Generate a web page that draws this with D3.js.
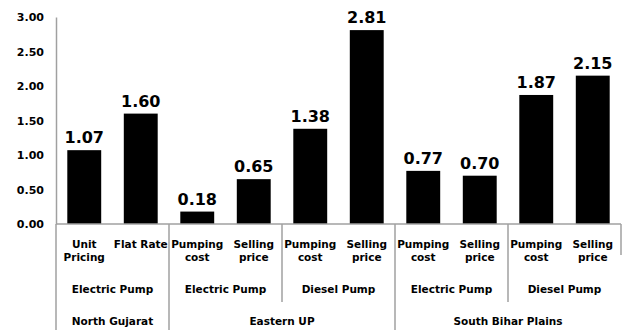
<!DOCTYPE html>
<html>
<head>
<meta charset="utf-8">
<script src="https://cdn.jsdelivr.net/npm/d3@7"></script>
<style>
  body { margin: 0; background: #fff; }
  text { font-family: "DejaVu Sans", Verdana, sans-serif; font-weight: bold; fill: #000; }
</style>
</head>
<body>
<script>
const w = 625;
const h = 330;

// Data

const subLabels = [
  ["Unit", "Pricing"], ["Flat Rate"],
  ["Pumping", "cost"], ["Selling", "price"],
  ["Pumping", "cost"], ["Selling", "price"],
  ["Pumping", "cost"], ["Selling", "price"],
  ["Pumping", "cost"], ["Selling", "price"]
];
const values = [1.07, 1.60, 0.18, 0.65, 1.38, 2.81, 0.77, 0.70, 1.87, 2.15];
const pumps = [
  "Electric Pump", "Electric Pump",
  "Electric Pump", "Electric Pump",
  "Diesel Pump", "Diesel Pump",
  "Electric Pump", "Electric Pump",
  "Diesel Pump", "Diesel Pump"
];
const regions = [
  "North Gujarat", "North Gujarat",
  "Eastern UP", "Eastern UP", "Eastern UP", "Eastern UP",
  "South Bihar Plains", "South Bihar Plains", "South Bihar Plains", "South Bihar Plains"
];
const yTicks = [0, 0.5, 1, 1.5, 2, 2.5, 3];

// Scales

const x = d3.scaleBand()
  .domain(d3.range(values.length))
  .range([56, 621])
  .paddingInner(0.4)
  .paddingOuter(0.2);

const y = d3.scaleLinear().domain([0, 3]).range([224, 17]);

const svg = d3.select("body").append("svg").attr("width", w).attr("height", h);

// Bars

svg.append("g")
  .selectAll("rect")
  .data(values)
  .join("rect")
  .attr("x", (d, i) => x(i))
  .attr("y", (d) => y(d))
  .attr("width", x.bandwidth())
  .attr("height", (d) => y(0) - y(d))
  .attr("fill", "#000");

// Value labels

svg.append("g")
  .selectAll("text")
  .data(values)
  .join("text")
  .attr("x", (d, i) => x(i) + x.bandwidth() / 2)
  .attr("y", (d) => y(d) - 7)
  .attr("text-anchor", "middle")
  .attr("font-size", 16)
  .text((d) => d.toFixed(2));

// Y axis

const yAxis = svg.append("g")
  .attr("transform", "translate(56,0)")
  .call(d3.axisLeft(y).tickValues(yTicks).tickFormat(d3.format(".2f")).tickSize(0).tickPadding(12));
yAxis.select(".domain").attr("stroke", "#a0a0a0").attr("stroke-width", 1.5);
yAxis.selectAll("text").attr("font-size", 11);

// X axis line

const lineColor = "#a0a0a0";
svg.append("line")
  .attr("x1", 56).attr("x2", 621)
  .attr("y1", y(0)).attr("y2", y(0))
  .attr("stroke", lineColor).attr("stroke-width", 1.5);

// Sub-category labels

svg.append("g")
  .selectAll("text")
  .data(subLabels)
  .join("text")
  .attr("x", (d, i) => x(i) + x.bandwidth() / 2)
  .attr("y", 248)
  .attr("text-anchor", "middle")
  .attr("font-size", 10.5)
  .selectAll("tspan")
  .data((d) => d)
  .join("tspan")
  .attr("x", function () { return this.parentNode.getAttribute("x"); })
  .attr("dy", (d, i) => (i === 0 ? 0 : 13))
  .text((d) => d);

// Group runs

function runs(keys) {
  const out = [];
  keys.forEach((k, i) => {
    const last = out[out.length - 1];
    if (last && last.key === k) last.end = i;
    else out.push({ key: k, start: i, end: i });
  });
  return out;
}

const step = x.step();
const left = (i) => x(i) - (step - x.bandwidth()) / 2;
const right = (i) => x(i) + x.bandwidth() + (step - x.bandwidth()) / 2;

const pumpRuns = runs(pumps.map((p, i) => regions[i] + "|" + p));
const regionRuns = runs(regions);

// Pump labels

svg.append("g")
  .selectAll("text")
  .data(pumpRuns)
  .join("text")
  .attr("x", (d) => (left(d.start) + right(d.end)) / 2)
  .attr("y", 293)
  .attr("text-anchor", "middle")
  .attr("font-size", 10.5)
  .text((d) => d.key.split("|")[1]);

// Region labels

svg.append("g")
  .selectAll("text")
  .data(regionRuns)
  .join("text")
  .attr("x", (d) => (left(d.start) + right(d.end)) / 2)
  .attr("y", 325)
  .attr("text-anchor", "middle")
  .attr("font-size", 10.5)
  .text((d) => d.key);

// Separators

const regionEdges = regionRuns.map((d) => left(d.start));
const pumpEdges = pumpRuns
  .map((d) => left(d.start))
  .filter((e) => !regionEdges.some((r) => Math.abs(r - e) < 1));

svg.append("g")
  .selectAll("line")
  .data(regionEdges)
  .join("line")
  .attr("x1", (d) => d).attr("x2", (d) => d)
  .attr("y1", y(0)).attr("y2", h)
  .attr("stroke", lineColor).attr("stroke-width", 1.5);

svg.append("g")
  .selectAll("line")
  .data(pumpEdges)
  .join("line")
  .attr("x1", (d) => d).attr("x2", (d) => d)
  .attr("y1", y(0)).attr("y2", 302)
  .attr("stroke", lineColor).attr("stroke-width", 1.5);

svg.append("line")
  .attr("x1", right(values.length - 1)).attr("x2", right(values.length - 1))
  .attr("y1", y(0)).attr("y2", 255)
  .attr("stroke", lineColor).attr("stroke-width", 1.5);
</script>
</body>
</html>
